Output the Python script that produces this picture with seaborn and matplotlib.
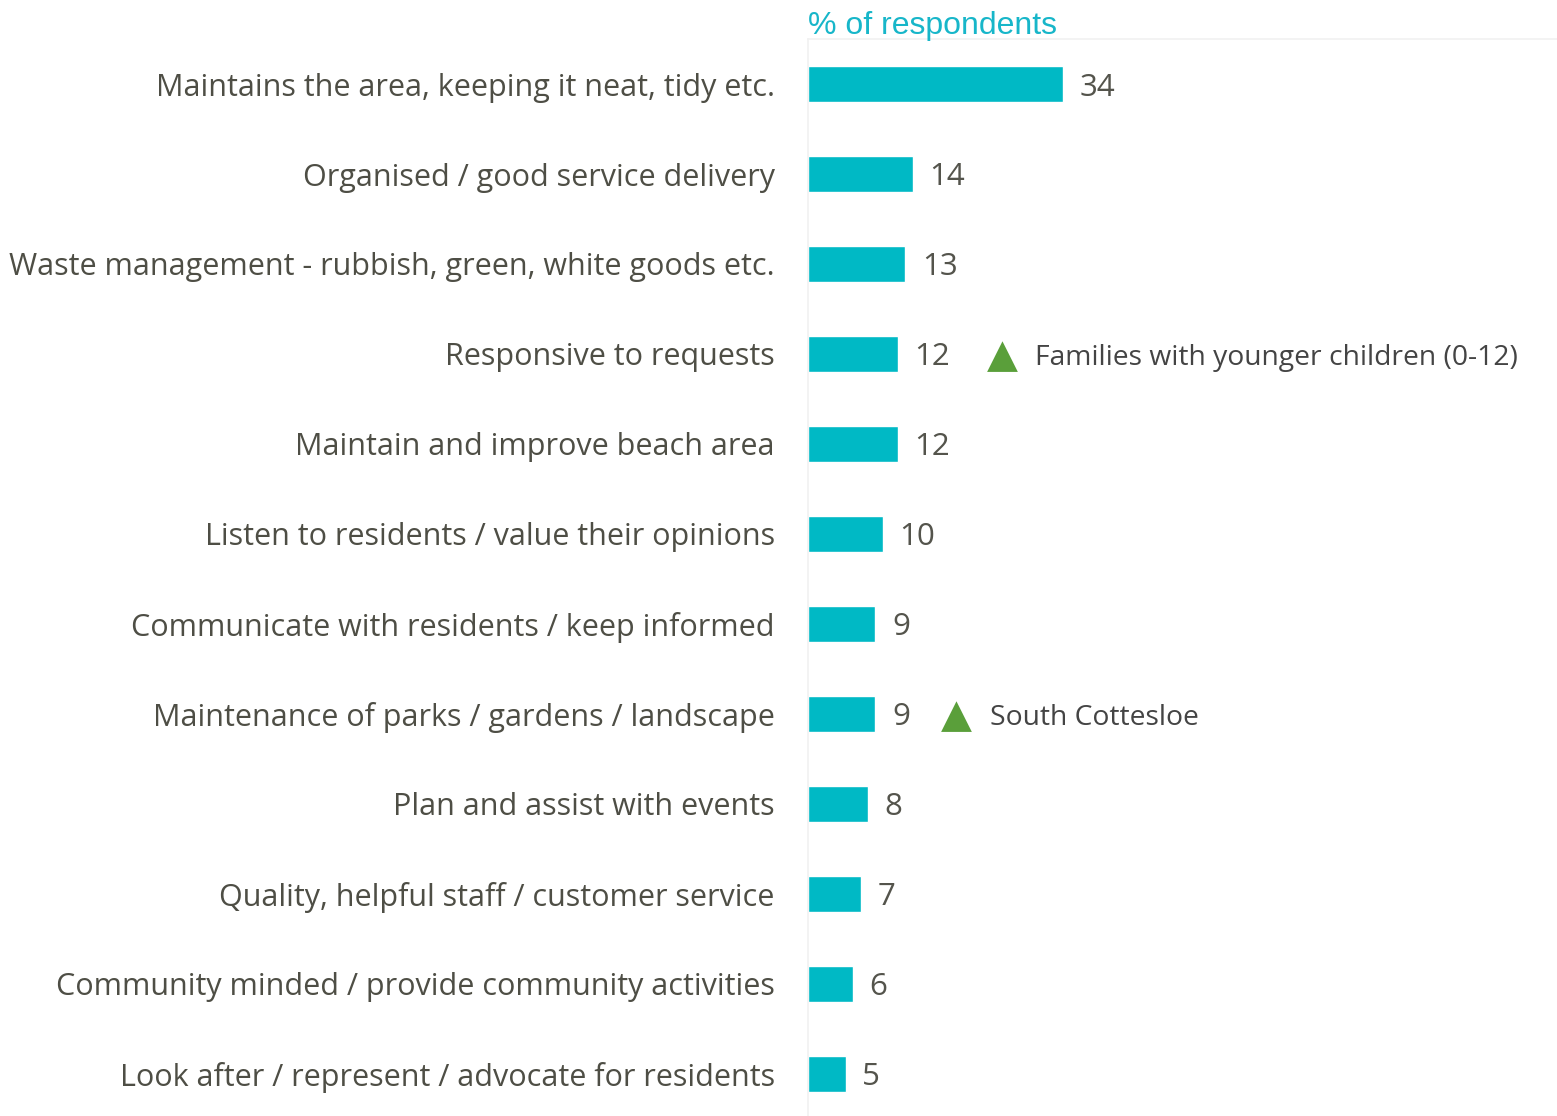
import pandas as pd
import matplotlib.pyplot as plt
import seaborn as sns

# data
categories = [
    "Maintains the area, keeping it neat, tidy etc.",
    "Organised / good service delivery",
    "Waste management - rubbish, green, white goods etc.",
    "Responsive to requests",
    "Maintain and improve beach area",
    "Listen to residents / value their opinions",
    "Communicate with residents / keep informed",
    "Maintenance of parks / gardens / landscape",
    "Plan and assist with events",
    "Quality, helpful staff / customer service",
    "Community minded / provide community activities",
    "Look after / represent / advocate for residents",
]
values = [34, 14, 13, 12, 12, 10, 9, 9, 8, 7, 6, 5]
notes = {3: "Families with younger children (0-12)", 7: "South Cottesloe"}

df = pd.DataFrame({"cat": categories, "pct": values})

sns.set_theme(style="white")
plt.rcParams['font.family'] = ['Open Sans', 'DejaVu Sans']

bar_col = "#00B9C5"
txt_col = "#4e4e45"

fig = plt.figure(figsize=(15.57, 11.16), dpi=100)
ax = fig.add_axes([0.519, 0.0, 0.481, 0.965])

sns.barplot(data=df, x="pct", y="cat", ax=ax, color=bar_col, width=0.4,
            orient="h", saturation=1)

ax.set_xlim(0, 100)
ax.set_ylim(11.47, -0.5)
ax.set_xlabel("")
ax.set_ylabel("")
ax.set_xticks([])
ax.tick_params(axis="y", length=0, pad=24, labelsize=22, labelcolor=txt_col)

for s in ["right", "bottom"]:
    ax.spines[s].set_visible(False)
for s in ["left", "top"]:
    ax.spines[s].set_color("#f1f1f1")
    ax.spines[s].set_linewidth(1.2)

# value labels
for i, v in enumerate(values):
    ax.annotate(str(v), (v, i), xytext=(12, -2.5), textcoords="offset points",
                va="center", ha="left", fontsize=22.5, color="#54544c")

# significance markers
for i, txt in notes.items():
    v = values[i]
    off = (58 + 23 * len(str(v))) * 0.72
    ax.annotate("\u25B2", (v, i), xytext=(off, -1.5), textcoords="offset points",
                va="center", ha="center", fontsize=29, color="#5a9f3a",
                family=["DejaVu Sans"])
    ax.annotate(txt, (v, i), xytext=(off + 24, -3), textcoords="offset points",
                va="center", ha="left", fontsize=20.3, color="#444444")

ax.text(0, 0.998, "% of respondents", transform=ax.transAxes, ha="left",
        va="bottom", fontsize=23, color="#17B6C9", family=["Liberation Sans"])

plt.savefig("out.png", dpi=100)
